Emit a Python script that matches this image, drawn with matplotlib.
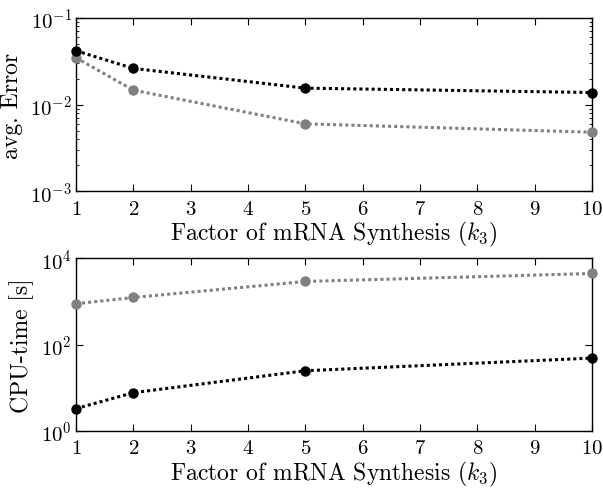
import numpy as np
import matplotlib
matplotlib.use("Agg")
import matplotlib.pyplot as plt
from matplotlib.ticker import LogLocator, NullLocator, FixedLocator

plt.rcParams['font.family'] = 'cmr10'
plt.rcParams['mathtext.fontset'] = 'cm'
plt.rcParams['axes.formatter.use_mathtext'] = True
plt.rcParams['axes.unicode_minus'] = False
plt.rcParams['font.size'] = 17

# factor of mRNA synthesis k3
k3 = [1, 2, 5, 10]

# average error
err_black = [0.0419, 0.0262, 0.0155, 0.0138]
err_gray = [0.0348, 0.0147, 0.0060, 0.0048]

# cpu time in seconds
cpu_black = [3.3, 7.7, 24.8, 48.7]
cpu_gray = [880, 1230, 2890, 4420]

GRAY = '#808080'


def style_axes(ax):
    ax.set_xlim(1, 10)
    ax.xaxis.set_major_locator(FixedLocator(range(1, 11)))
    ax.tick_params(which='both', direction='in', top=True, right=True,
                   labelsize=15)
    ax.tick_params(which='major', length=5, width=0.8)
    ax.tick_params(axis='x', which='major', pad=6)
    ax.tick_params(axis='y', which='major', pad=3)
    ax.tick_params(which='minor', length=2.5, width=0.6)
    for s in ax.spines.values():
        s.set_linewidth(1.0)
    ax.set_xlabel(r'Factor of mRNA Synthesis ($k_3$)', labelpad=1)


def draw(ax, yb, yg):
    ls = (0, (1, 1))
    ax.plot(k3, yg, linestyle=ls, color=GRAY, lw=2.2, marker='o', ms=6.5,
            dash_capstyle='butt', clip_on=False, zorder=3)
    ax.plot(k3, yb, linestyle=ls, color='black', lw=2.2, marker='o', ms=6.5,
            dash_capstyle='butt', clip_on=False, zorder=4)


fig = plt.figure(figsize=(6.03, 4.89), dpi=100)
ax1 = fig.add_axes([0.126, 0.607, 0.856, 0.354])
ax2 = fig.add_axes([0.126, 0.1166, 0.856, 0.3534])

draw(ax1, err_black, err_gray)
ax1.set_yscale('log')
ax1.set_ylim(1e-3, 1e-1)
ax1.yaxis.set_major_locator(LogLocator(base=10, numticks=10))
ax1.yaxis.set_minor_locator(LogLocator(base=10, subs=np.arange(2, 10), numticks=10))
ax1.set_ylabel('avg. Error', labelpad=5)
style_axes(ax1)

draw(ax2, cpu_black, cpu_gray)
ax2.set_yscale('log')
ax2.set_ylim(1e0, 1e4)
ax2.yaxis.set_major_locator(FixedLocator([1e0, 1e2, 1e4]))
ax2.yaxis.set_minor_locator(NullLocator())
ax2.set_ylabel('CPU-time [s]', labelpad=5)
style_axes(ax2)

fig.savefig('out.png', dpi=100)
